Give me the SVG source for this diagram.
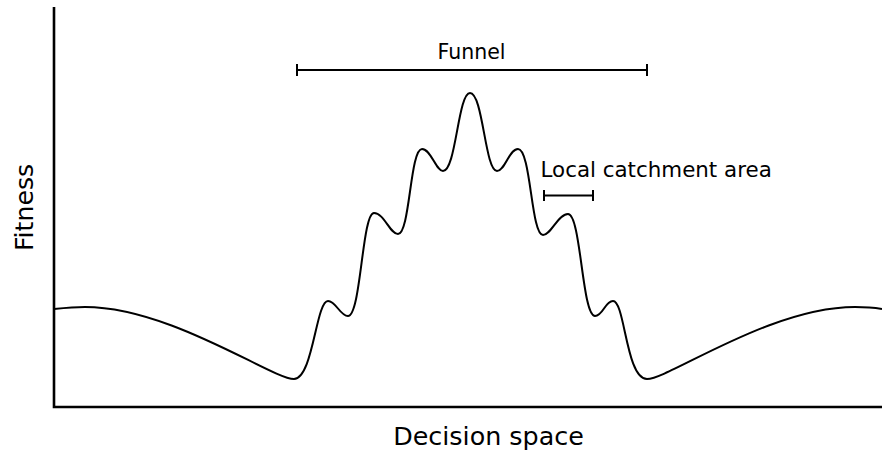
<svg xmlns="http://www.w3.org/2000/svg" width="882" height="450" viewBox="0 0 882 450">
<style>
.ln{fill:none;stroke:#000;stroke-width:2;stroke-linecap:butt}
.ax{fill:none;stroke:#000;stroke-width:2.6}
.t{font-family:"DejaVu Sans",sans-serif;fill:#000}
</style>
<rect width="882" height="450" fill="#fff"/>
<g id="axes">
<path class="ax" d="M54,7 V407 H882"/>
</g>
<g id="curve">
<path class="ln" d="M54,309 C64,308 75,307 85,307 C170,307 272,379 294,379 C313,379 316,301 328,301 C336,301 340,316 348,316 C361,316 362,213 374,213 C384,213 390,234 398,234 C410,234 410,149 422,149 C431,149 436,171 443,171 C456,171 458,93 470,93 C483,93 485,171 497,171 C505,171 509,149 518,149 C531,149 531,235 543,235 C551,235 558,214 568,214 C581,214 582,316 595,316 C603,316 605,301 613,301 C625,301 626,379 647,379 C669,379 770,307 855,307 C865,307 876,308 882,309"/>
</g>
<g id="funnel">
<path class="ln" d="M297,70 H647 M297,64 V76 M647,64 V76"/>
<text class="t" x="471.5" y="59" font-size="20.5" text-anchor="middle">Funnel</text>
</g>
<g id="local">
<path class="ln" d="M544,195.5 H593 M544,190 V201 M593,190 V201"/>
<text class="t" x="540.5" y="177" font-size="21.4">Local catchment area</text>
</g>
<g id="labels">
<text class="t" x="488.5" y="445" font-size="25.4" text-anchor="middle">Decision space</text>
<text class="t" transform="translate(33,207.5) rotate(-90)" font-size="25.2" text-anchor="middle">Fitness</text>
</g>
</svg>
